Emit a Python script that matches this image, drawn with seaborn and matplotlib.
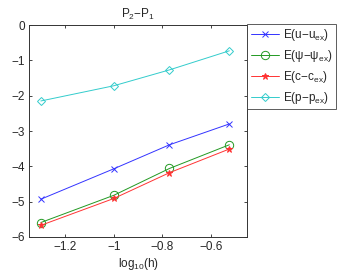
import pandas as pd
import seaborn as sns
import matplotlib
matplotlib.use("Agg")
import matplotlib.pyplot as plt

# log10 of mesh size
log_h = [-1.301, -1.0, -0.77, -0.523]

# errors (log10) per quantity
err_u = [-4.93, -4.07, -3.39, -2.80]
err_psi = [-5.59, -4.82, -4.06, -3.39]
err_c = [-5.67, -4.91, -4.18, -3.51]
err_p = [-2.15, -1.72, -1.27, -0.73]

labels = [r"E(u$-$u$_{ex}$)", r"E($\psi$$-$$\psi_{ex}$)",
          r"E(c$-$c$_{ex}$)", r"E(p$-$p$_{ex}$)"]
colors = ["#3333ff", "#229922", "#ff3333", "#33cccc"]
markers = ["x", "o", "*", "D"]
msizes = [4, 6, 5, 4.5]

sns.set_style("ticks")
plt.rcParams["font.family"] = ["Liberation Sans", "DejaVu Sans"]
plt.rcParams["mathtext.default"] = "regular"
fs = 8.5

fig = plt.figure(figsize=(3.54, 2.73), dpi=100)
ax = fig.add_axes([29 / 354, 1 - 237 / 273, 218 / 354, 212 / 273])

for vals, lab, col, mk, ms in zip([err_u, err_psi, err_c, err_p], labels, colors, markers, msizes):
    df = pd.DataFrame({"log_h": log_h, "err": vals})
    sns.lineplot(data=df, x="log_h", y="err", ax=ax, color=col, marker=mk, markersize=ms,
                 markerfacecolor="none" if mk in "oD" else col,
                 markeredgecolor=col, markeredgewidth=0.7, linewidth=0.7, label=lab)

ax.set_xlim(-1.35, -0.45)
ax.set_ylim(-6, 0)
ax.set_xticks([-1.2, -1.0, -0.8, -0.6])
ax.set_xticklabels(["\u22121.2", "\u22121", "\u22120.8", "\u22120.6"])
ax.set_yticks(range(-6, 1))
ax.set_yticklabels(["\u22126", "\u22125", "\u22124", "\u22123", "\u22122", "\u22121", "0"])
ax.tick_params(direction="in", length=2.5, width=0.6, top=True, right=True, labelsize=fs, pad=3)
for sp in ax.spines.values():
    sp.set_linewidth(0.7)
    sp.set_color("#333333")

ax.set_xlabel(r"log$_{10}$(h)", fontsize=fs, labelpad=2)
ax.set_ylabel("")
ax.set_title(r"P$_2$$-$P$_1$", fontsize=fs, pad=5)

leg = ax.legend(loc="upper left", bbox_to_anchor=(1.0, 1.005), frameon=True, fancybox=False,
                fontsize=fs, handlelength=2.4, borderpad=0.3, labelspacing=0.4,
                handletextpad=0.35, borderaxespad=0.0)
leg.get_frame().set_edgecolor("#333333")
leg.get_frame().set_linewidth(0.7)

fig.savefig("out.png", dpi=100)
